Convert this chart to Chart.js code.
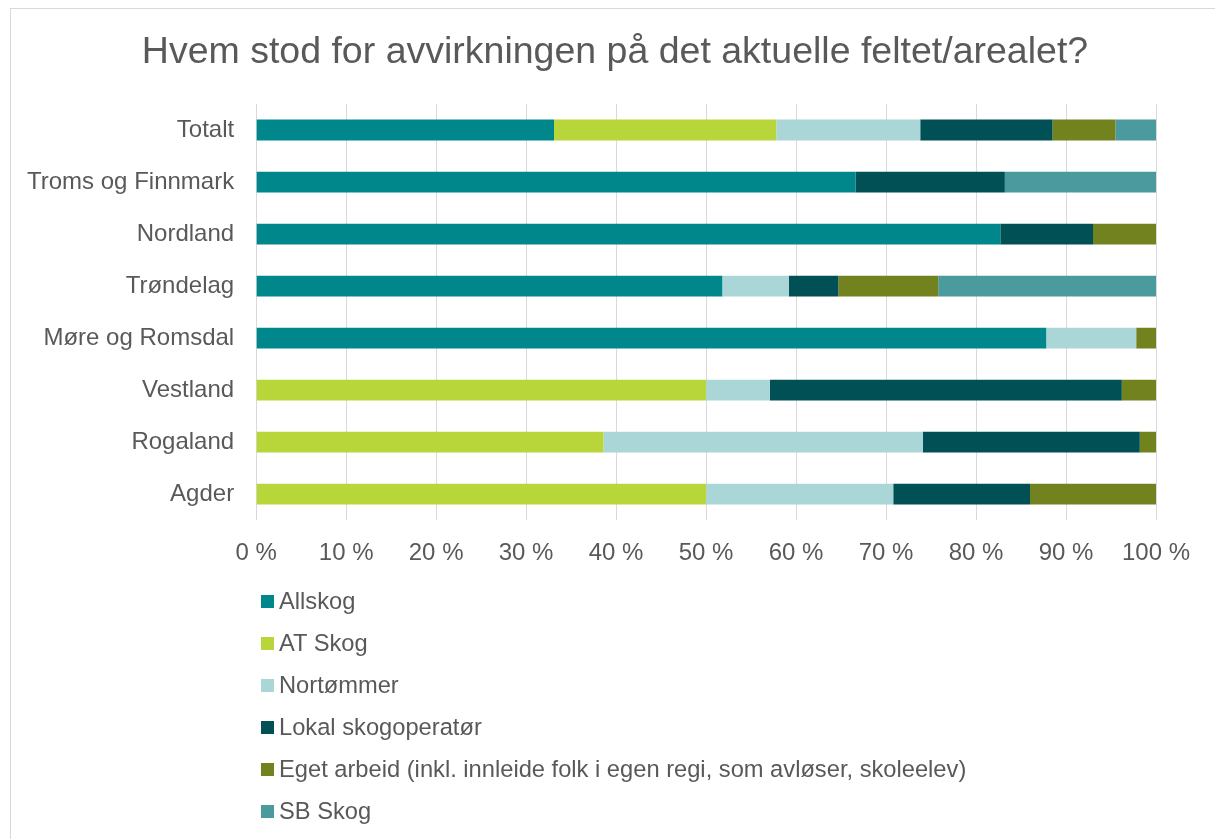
<!DOCTYPE html>
<html>
<head>
<meta charset="utf-8">
<script src="https://cdn.jsdelivr.net/npm/chart.js@4.4.1/dist/chart.umd.min.js"></script>
<style>
  html, body { margin: 0; padding: 0; background: #fff; }
  #wrap { position: relative; width: 1215px; height: 839px; overflow: hidden; }
  #frame { position: absolute; left: 10px; top: 8px; width: 1220px; height: 850px; border: 1px solid #d9d9d9; box-sizing: border-box; }
  #chart { position: absolute; left: 0; top: 0; }
  #title { position: absolute; left: 0; top: 28px; width: 1230px; text-align: center; line-height: 44px; white-space: nowrap;
           font-family: "Liberation Sans", Arial, sans-serif; font-size: 37.5px; color: #595959; }
  #legend { position: absolute; left: 261px; top: 580px; font-family: "Liberation Sans", Arial, sans-serif; font-size: 23.7px; color: #595959; }
  .item { height: 42px; display: flex; align-items: center; }
  .box { width: 13px; height: 13px; margin-right: 5px; }
</style>
</head>
<body>
<div id="wrap">
  <div id="frame"></div>
  <canvas id="chart" width="1215" height="839"></canvas>
  <div id="title"></div>
  <div id="legend"></div>
</div>
<script>
const chartTitle = 'Hvem stod for avvirkningen på det aktuelle feltet/arealet?';

// Regions (top to bottom)
const regions = ['Totalt', 'Troms og Finnmark', 'Nordland', 'Trøndelag', 'Møre og Romsdal', 'Vestland', 'Rogaland', 'Agder'];

// Share of harvests per operator (%), same order as regions
const allskog   = [33.1, 66.6, 82.7, 51.8, 87.8, 0, 0, 0];
const atSkog    = [24.7, 0, 0, 0, 0, 50.0, 38.6, 50.0];
const nortommer = [16.0, 0, 0, 7.4, 10.0, 7.1, 35.5, 20.8];
const lokal     = [14.7, 16.6, 10.3, 5.5, 0, 39.1, 24.1, 15.2];
const eget      = [7.0, 0, 7.0, 11.1, 2.2, 3.8, 1.8, 14.0];
const sbSkog    = [4.5, 16.8, 0, 24.2, 0, 0, 0, 0];

const seriesNames = ['Allskog', 'AT Skog', 'Nortømmer', 'Lokal skogoperatør',
  'Eget arbeid (inkl. innleide folk i egen regi, som avløser, skoleelev)', 'SB Skog'];
const seriesColors = ['#00878c', '#b8d53a', '#aad6d8', '#005055', '#71821e', '#4b9a9d'];
const xTicks = [0, 10, 20, 30, 40, 50, 60, 70, 80, 90, 100];

const textColor = '#595959';
const fontFamily = '"Liberation Sans", Arial, sans-serif';

const seriesData = [allskog, atSkog, nortommer, lokal, eget, sbSkog];

// Title sits centred over the whole frame, so it is placed as page text
document.getElementById('title').textContent = chartTitle;

const ctx = document.getElementById('chart');
new Chart(ctx, {
  type: 'bar',
  data: {
    labels: regions,
    datasets: seriesData.map((d, i) => ({
      label: seriesNames[i],
      data: d,
      backgroundColor: seriesColors[i],
      borderWidth: 0,
      categoryPercentage: 1,
      barPercentage: 0.4
    }))
  },
  options: {
    indexAxis: 'y',
    responsive: false,
    animation: false,
    layout: {
      padding: { left: 5, right: 59, top: 104, bottom: 252 }
    },
    scales: {
      x: {
        stacked: true,
        min: 0,
        max: 100,
        afterBuildTicks: function(axis) {
          axis.ticks = xTicks.map(v => ({ value: v }));
        },
        grid: { color: '#d9d9d9', lineWidth: 1, drawTicks: false },
        border: { display: false },
        ticks: {
          color: textColor,
          font: { family: fontFamily, size: 24 },
          padding: 19,
          maxRotation: 0,
          callback: function(value) { return value + ' %'; }
        }
      },
      y: {
        stacked: true,
        grid: { display: false, drawTicks: false },
        border: { display: false },
        ticks: {
          color: textColor,
          font: { family: fontFamily, size: 24 },
          padding: 22
        }
      }
    },
    plugins: {
      title: { display: false },
      legend: { display: false },
      tooltip: { enabled: false }
    }
  }
});

// Legend, one entry per row under the chart
const legend = document.getElementById('legend');
seriesNames.forEach((name, i) => {
  const row = document.createElement('div');
  row.className = 'item';
  const box = document.createElement('span');
  box.className = 'box';
  box.style.background = seriesColors[i];
  const label = document.createElement('span');
  label.textContent = name;
  row.appendChild(box);
  row.appendChild(label);
  legend.appendChild(row);
});
</script>
</body>
</html>
